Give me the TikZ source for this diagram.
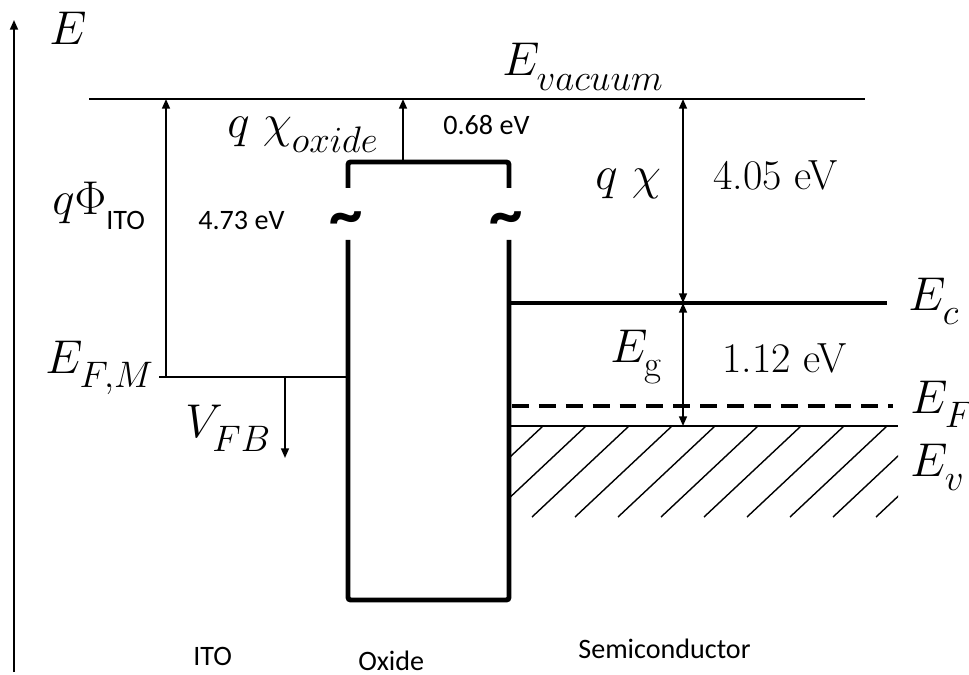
\RequirePackage{fix-cm}
\documentclass[tikz,border=0pt]{standalone}
\usepackage{fontspec}
\usetikzlibrary{arrows.meta}
\newfontfamily\calibri{Carlito}
\DeclareMathSizes{27}{27}{21}{16}
\everymath{\fontdimen16\textfont2=8.5pt \fontdimen17\textfont2=8.5pt}

\begin{document}
\begin{tikzpicture}[x=.02cm,y=-.02cm,>={Triangle[length=5.5pt,width=4.5pt]},
level/.style={line width=1.1pt},
band/.style={line width=2.4pt},
wall/.style={line width=2.8pt,rounded corners=1.5pt},
dim/.style={->,line width=1pt},
sym/.style={anchor=base west,inner sep=0pt,font=\fontsize{27}{30}\selectfont},
num/.style={anchor=base west,inner sep=0pt,font=\fontsize{24}{28}\selectfont},
val/.style={anchor=base west,inner sep=0pt,font=\calibri\fontsize{16}{19}\selectfont},
brk/.style={inner sep=0pt,font=\calibri\bfseries\fontsize{38}{42}\selectfont}]

\useasboundingbox (0,0) rectangle (969,675);

\coordinate (ax0) at (14,672);
\coordinate (ax1) at (14,20);
\draw[dim,line width=1.1pt] (ax0) -- (ax1);
\node[sym] (lE) at (49,45) {$E$};

\coordinate (vacL) at (89,99);
\coordinate (vacR) at (865,99);
\draw[level] (vacL) -- (vacR);
\node[sym] (lvac) at (502,76) {$E_{vacuum}$};

\coordinate (fmL) at (159,377);
\coordinate (fmR) at (347,377);
\draw[level] (fmL) -- (fmR);
\node[sym] (lfm) at (45,373) {$E_{F,M}$};

\draw[wall] (348,188) -- (348,162) -- (509,162) -- (509,188);
\draw[wall] (348,240) -- (348,600) -- (509,600) -- (509,240);
\node[brk] (tl) at (346,224) {\textasciitilde};
\node[brk] (tr) at (506,224) {\textasciitilde};

\coordinate (ecL) at (509,303);
\coordinate (ecR) at (887,303);
\coordinate (efL) at (512,406);
\coordinate (efR) at (893,406);
\coordinate (evL) at (509,426);
\coordinate (evR) at (898,426);
\draw[band] (ecL) -- (ecR);
\draw[band,dash pattern=on 9.6pt off 5.7pt] (efL) -- (efR);
\draw[level] (evL) -- (evR);

\begin{scope}
\clip (511,426) rectangle (898,518);
\foreach \k in {-2,...,8}
  \draw[line width=.8pt] (532+43*\k,517) -- (629+43*\k,426);
\end{scope}

\coordinate (phiB) at (166,377);
\coordinate (phiT) at (166,99);
\coordinate (oxT) at (403,162);
\coordinate (oxV) at (403,99);
\coordinate (fbT) at (285,377);
\coordinate (fbB) at (285,458);
\coordinate (chiT) at (683,99);
\coordinate (chiB) at (683,303);
\coordinate (gB) at (683,426);
\draw[dim] (phiB) -- (phiT);
\draw[dim] (oxT) -- (oxV);
\draw[dim] (fbT) -- (fbB);
\draw[dim,<->] (chiB) -- (chiT);
\draw[dim,<->] (chiB) -- (gB);

\node[sym] (lphi) at (52,215) {$q\Phi_{\hbox{\calibri\fontsize{16}{19}\selectfont ITO}}$};
\node[val] (vphi) at (198,230) {4.73 eV};
\node[sym] (lchiox) at (227,138) {$q\;\chi_{oxide}$};
\node[val] (vchiox) at (443,135) {0.68 eV};
\node[sym] (lfb) at (185,437) {$V_{FB}$};
\node[sym] (lchi) at (595,190) {$q\ \chi$};
\node[num] (vchi) at (713,190) {4.05 eV};
\node[sym] (lg) at (610,362) {$E_{\mathrm{g}}$};
\node[num] (vg) at (722,372) {1.12 eV};
\node[sym] (lc) at (908,310) {$E_c$};
\node[sym] (lf) at (910,413) {$E_F$};
\node[sym] (lv) at (910,476) {$E_v$};

\node[val] (mito) at (193,665) {ITO};
\node[val] (mox) at (358,670) {Oxide};
\node[val] (msc) at (578,658) {Semiconductor};
\end{tikzpicture}
\end{document}
